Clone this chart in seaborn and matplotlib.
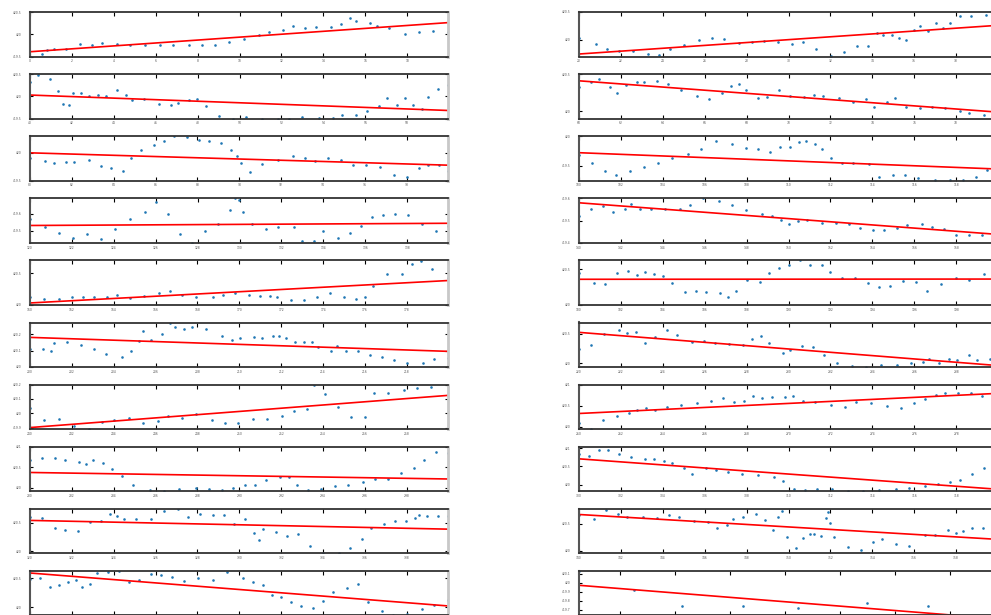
import pandas as pd
import seaborn as sns
import matplotlib.pyplot as plt
from matplotlib.ticker import MultipleLocator, FormatStrFormatter

# one window of 20 samples per panel
x0 = [0, 0.56, 0.81, 1.15, 1.71, 2.39, 2.95, 3.46, 4.14, 4.78, 5.51, 6.22, 6.84, 7.60, 8.22, 8.84, 9.48, 10.23, 10.92, 11.41, 12.06, 12.56, 13.12, 13.67, 14.37, 14.82, 15.27, 15.57, 16.21, 16.57, 17.13, 17.90, 18.58, 19.22, 19.95]
y0 = [419.50, 419.56, 419.64, 419.66, 419.67, 419.77, 419.75, 419.81, 419.77, 419.75, 419.76, 419.75, 419.75, 419.75, 419.75, 419.76, 419.82, 419.90, 419.98, 420.04, 420.10, 420.19, 420.15, 420.16, 420.16, 420.23, 420.37, 420.29, 420.25, 420.18, 420.13, 420.01, 420.05, 420.07, 420.05]

x1 = [20.0, 20.83, 21.32, 21.90, 22.58, 23.27, 23.82, 24.32, 25.02, 25.72, 26.33, 26.90, 27.63, 28.27, 28.83, 29.51, 30.15, 30.71, 31.33, 32.02, 32.65, 33.28, 33.80, 34.23, 34.53, 34.92, 35.27, 35.60, 35.97, 36.29, 36.64, 37.05, 37.35, 37.72, 38.17, 38.73, 39.41, 39.95]
y1 = [420.04, 419.92, 419.84, 419.80, 419.80, 419.74, 419.72, 419.83, 419.90, 419.99, 420.04, 420.01, 419.94, 419.96, 419.98, 419.96, 419.92, 419.96, 419.84, 419.70, 419.78, 419.88, 419.89, 420.12, 420.09, 420.08, 420.04, 420.00, 420.18, 420.24, 420.16, 420.31, 420.21, 420.31, 420.43, 420.42, 420.44, 420.46]

x2 = [40.0, 40.37, 40.94, 41.32, 41.56, 41.88, 42.06, 42.44, 42.82, 43.25, 43.63, 44.13, 44.57, 44.88, 45.43, 46.15, 46.71, 47.06, 47.59, 47.97, 48.40, 49.02, 49.69, 50.33, 51.08, 51.82, 52.36, 53.00, 53.78, 54.45, 54.90, 55.54, 56.08, 56.65, 57.04, 57.53, 57.90, 58.28, 58.73, 59.01, 59.46, 59.95]
y2 = [420.33, 420.48, 420.39, 420.11, 419.83, 419.80, 420.07, 420.08, 420.00, 420.04, 420.01, 420.15, 420.04, 419.92, 419.95, 419.83, 419.80, 419.86, 419.91, 419.95, 419.78, 419.55, 419.50, 419.54, 419.50, 419.50, 419.50, 419.53, 419.52, 419.52, 419.58, 419.58, 419.68, 419.79, 419.97, 419.80, 419.97, 419.80, 419.72, 419.98, 420.17, 420.26]

x3 = [60.0, 60.57, 60.96, 61.47, 61.82, 62.22, 62.77, 63.09, 63.70, 64.27, 64.89, 65.64, 66.22, 66.82, 67.27, 67.64, 67.97, 68.52, 68.96, 69.53, 70.07, 70.73, 71.20, 71.65, 72.40, 73.10, 73.70, 74.07, 74.72, 75.09, 75.60, 76.29, 76.86, 77.47, 78.17, 78.61, 79.32, 79.95]
y3 = [420.33, 420.39, 420.43, 420.33, 420.24, 420.35, 420.39, 420.39, 420.41, 420.36, 420.28, 420.21, 420.17, 420.25, 420.34, 420.37, 420.28, 420.18, 420.19, 420.29, 420.21, 420.19, 420.22, 420.20, 420.18, 420.13, 420.16, 420.06, 420.13, 420.18, 420.06, 420.04, 420.06, 420.04, 420.00, 419.97, 419.95, 419.93]

x4 = [80.0, 80.73, 81.16, 81.72, 82.10, 82.84, 83.38, 83.89, 84.45, 84.81, 85.31, 85.91, 86.41, 86.90, 87.51, 88.08, 88.57, 89.12, 89.61, 89.91, 90.09, 90.53, 91.09, 91.84, 92.55, 93.12, 93.61, 94.25, 94.86, 95.41, 96.04, 96.70, 97.37, 97.99, 98.60, 99.03, 99.54, 99.97]
y4 = [419.90, 419.85, 419.81, 419.83, 419.83, 419.88, 419.76, 419.73, 419.68, 419.91, 420.05, 420.15, 420.22, 420.30, 420.28, 420.24, 420.21, 420.17, 420.06, 419.95, 419.82, 419.66, 419.80, 419.88, 419.94, 419.90, 419.86, 419.90, 419.87, 419.78, 419.78, 419.74, 419.60, 419.56, 419.72, 419.78, 419.79, 419.68]

x5 = [100.0, 100.64, 101.23, 101.78, 102.42, 103.11, 103.79, 104.45, 105.18, 105.82, 106.52, 107.28, 107.97, 108.54, 109.12, 109.61, 110.07, 110.49, 110.82, 111.27, 111.59, 112.02, 112.53, 113.08, 113.86, 114.34, 115.00, 115.57, 116.19, 116.97, 117.71, 118.33, 118.95, 119.47, 119.95]
y5 = [419.68, 419.55, 419.42, 419.34, 419.42, 419.48, 419.55, 419.63, 419.70, 419.78, 419.92, 419.87, 419.80, 419.78, 419.74, 419.82, 419.82, 419.90, 419.92, 419.87, 419.78, 419.63, 419.54, 419.54, 419.53, 419.31, 419.35, 419.35, 419.30, 419.26, 419.27, 419.26, 419.31, 419.43, 419.52]

x6 = [120.0, 120.70, 121.37, 122.07, 122.71, 123.38, 124.08, 124.78, 125.47, 126.01, 126.60, 127.17, 127.73, 128.35, 128.97, 129.55, 129.78, 129.98, 130.18, 130.61, 131.24, 131.86, 132.61, 132.96, 133.55, 133.99, 134.71, 135.25, 135.82, 136.32, 136.83, 137.40, 138.02, 138.71, 139.39, 139.95]
y6 = [419.57, 419.52, 419.49, 419.46, 419.48, 419.45, 419.51, 419.57, 419.61, 419.67, 419.60, 419.48, 419.43, 419.50, 419.54, 419.62, 419.69, 419.68, 419.61, 419.54, 419.51, 419.52, 419.52, 419.44, 419.44, 419.50, 419.46, 419.49, 419.53, 419.58, 419.59, 419.60, 419.59, 419.54, 419.50, 419.53]

x7 = [140.0, 140.57, 141.13, 141.63, 142.18, 142.50, 142.93, 143.46, 144.11, 144.80, 145.31, 145.91, 146.66, 147.28, 147.97, 148.72, 149.21, 149.64, 150.02, 150.45, 150.87, 151.59, 152.27, 152.88, 153.39, 154.01, 154.55, 155.19, 155.67, 156.38, 156.86, 157.43, 157.98, 158.61, 159.22, 159.95]
y7 = [419.522, 419.552, 419.566, 419.54, 419.55, 419.576, 419.552, 419.554, 419.55, 419.554, 419.57, 419.6, 419.588, 419.572, 419.546, 419.528, 419.522, 419.502, 419.484, 419.5, 419.502, 419.49, 419.49, 419.484, 419.466, 419.458, 419.456, 419.466, 419.48, 419.486, 419.472, 419.462, 419.436, 419.436, 419.434, 419.43]

x8 = [160.0, 160.69, 161.37, 161.99, 162.53, 163.04, 163.67, 164.16, 164.78, 165.45, 166.15, 166.69, 167.27, 167.94, 168.75, 169.24, 169.80, 170.47, 170.98, 171.47, 171.78, 172.48, 173.08, 173.71, 174.31, 175.00, 175.57, 176.02, 176.38, 177.05, 177.78, 178.23, 178.68, 179.22, 179.97]
y8 = [420.12, 420.10, 420.10, 420.13, 420.13, 420.13, 420.13, 420.16, 420.11, 420.14, 420.19, 420.22, 420.16, 420.12, 420.13, 420.16, 420.18, 420.15, 420.14, 420.14, 420.12, 420.08, 420.08, 420.12, 420.18, 420.13, 420.09, 420.12, 420.29, 420.48, 420.49, 420.64, 420.69, 420.57, 420.43]

x9 = [180.0, 180.70, 181.23, 181.83, 182.33, 182.77, 183.16, 183.59, 184.03, 184.46, 185.08, 185.58, 186.07, 186.73, 187.09, 187.49, 188.03, 188.65, 189.08, 189.53, 190.02, 190.53, 191.04, 191.60, 191.97, 192.54, 193.16, 193.78, 194.34, 194.85, 195.46, 196.10, 196.61, 197.27, 197.98, 198.60, 199.31, 199.95]
y9 = [420.44, 420.30, 420.29, 420.45, 420.47, 420.41, 420.46, 420.43, 420.40, 420.31, 420.18, 420.20, 420.18, 420.16, 420.11, 420.20, 420.35, 420.32, 420.44, 420.51, 420.56, 420.62, 420.55, 420.56, 420.46, 420.37, 420.37, 420.31, 420.25, 420.27, 420.33, 420.32, 420.20, 420.29, 420.37, 420.35, 420.43, 420.40]

x10 = [200.0, 200.62, 200.99, 201.13, 201.77, 202.45, 203.08, 203.65, 204.41, 204.84, 205.23, 205.40, 205.78, 206.29, 206.68, 206.92, 207.35, 207.75, 208.41, 209.16, 209.63, 210.01, 210.69, 211.09, 211.59, 211.89, 212.21, 212.65, 213.10, 213.47, 213.78, 214.36, 214.68, 215.11, 215.67, 216.22, 216.80, 217.37, 218.01, 218.76, 219.31, 219.97]
y10 = [420.108, 420.108, 420.097, 420.146, 420.154, 420.135, 420.111, 420.078, 420.059, 420.1, 420.157, 420.221, 420.165, 420.203, 420.267, 420.243, 420.23, 420.243, 420.23, 420.189, 420.162, 420.178, 420.181, 420.173, 420.189, 420.189, 420.173, 420.149, 420.149, 420.154, 420.119, 420.1, 420.13, 420.097, 420.095, 420.073, 420.062, 420.041, 420.024, 420.027, 420.049, 420.057]

x11 = [220.0, 220.56, 221.18, 221.48, 221.91, 222.29, 222.73, 223.16, 223.65, 224.21, 224.70, 225.39, 225.98, 226.47, 227.16, 227.84, 228.27, 228.69, 229.07, 229.75, 230.07, 230.63, 231.16, 231.71, 232.32, 233.02, 233.69, 234.42, 235.16, 235.84, 236.40, 236.70, 237.20, 237.64, 238.06, 238.63, 238.98, 239.60, 239.95]
y11 = [420.24, 420.31, 420.49, 420.69, 420.57, 420.52, 420.53, 420.35, 420.44, 420.56, 420.48, 420.36, 420.38, 420.35, 420.32, 420.31, 420.42, 420.46, 420.34, 420.18, 420.22, 420.29, 420.27, 420.14, 420.00, 419.96, 419.94, 419.97, 419.98, 420.00, 420.02, 420.08, 420.00, 420.07, 420.05, 420.14, 420.05, 420.07, 420.08]

x12 = [240.0, 240.69, 241.37, 242.10, 242.84, 243.46, 244.02, 244.75, 245.39, 246.12, 246.60, 247.24, 247.92, 248.70, 249.34, 249.95, 250.63, 251.31, 252.06, 252.60, 253.23, 253.59, 254.09, 254.73, 255.33, 256.02, 256.43, 257.12, 257.86, 258.49, 259.17, 259.97]
y12 = [420.039, 419.952, 419.961, 419.915, 419.893, 419.937, 419.955, 419.964, 419.933, 419.949, 419.983, 419.964, 419.992, 419.952, 419.933, 419.933, 419.961, 419.958, 419.98, 420.014, 420.03, 420.2, 420.132, 420.045, 419.974, 419.971, 420.138, 420.141, 420.163, 420.175, 420.185, 420.129]

x13 = [260.0, 260.57, 261.13, 261.82, 262.37, 262.76, 263.19, 263.62, 264.18, 264.86, 265.61, 266.28, 266.87, 267.41, 267.86, 268.29, 268.72, 269.21, 269.85, 270.22, 270.71, 271.27, 272.02, 272.69, 273.20, 273.95, 274.70, 275.36, 275.98, 276.49, 277.02, 277.48, 278.10, 278.73, 279.24, 279.95]
y13 = [420.097, 419.95, 420.16, 420.265, 420.339, 420.412, 420.444, 420.402, 420.475, 420.528, 420.57, 420.622, 420.675, 420.59, 420.622, 420.738, 420.685, 420.717, 420.717, 420.738, 420.622, 420.58, 420.528, 420.465, 420.58, 420.559, 420.496, 420.454, 420.559, 420.654, 420.748, 420.801, 420.801, 420.79, 420.727, 420.706]

x14 = [280.0, 280.56, 281.18, 281.69, 282.36, 282.68, 283.00, 283.49, 283.92, 284.41, 284.91, 285.74, 286.41, 287.11, 287.94, 288.54, 289.16, 289.72, 290.28, 290.74, 291.28, 291.92, 292.37, 292.76, 293.27, 293.91, 294.58, 295.20, 295.92, 296.46, 297.08, 297.74, 298.33, 298.84, 299.38, 299.97]
y14 = [420.673, 420.728, 420.717, 420.684, 420.619, 420.575, 420.684, 420.597, 420.444, 420.292, 420.074, 419.943, 419.921, 419.965, 419.986, 419.954, 419.932, 419.986, 420.074, 420.052, 420.193, 420.248, 420.27, 420.052, 419.932, 419.965, 420.041, 420.074, 420.128, 420.204, 420.215, 420.368, 420.477, 420.684, 420.869, 420.837]

x15 = [300.0, 300.46, 300.96, 301.40, 301.90, 302.47, 303.16, 303.60, 304.05, 304.45, 305.00, 305.37, 306.07, 306.52, 307.09, 307.78, 308.53, 309.31, 309.74, 310.25, 310.80, 311.38, 312.08, 312.83, 313.55, 314.31, 315.11, 315.73, 316.51, 317.13, 317.69, 318.18, 318.77, 319.33, 319.95]
y15 = [420.845, 420.772, 420.942, 420.942, 420.833, 420.759, 420.711, 420.698, 420.65, 420.601, 420.467, 420.296, 420.467, 420.393, 420.357, 420.284, 420.271, 420.223, 420.088, 419.881, 419.844, 419.893, 419.881, 419.832, 419.82, 419.844, 419.881, 419.918, 419.954, 420.015, 420.064, 420.137, 420.284, 420.454, 420.625]

x16 = [320.0, 320.56, 321.18, 321.69, 322.31, 322.87, 323.38, 323.82, 324.14, 324.51, 325.08, 325.77, 326.41, 327.09, 327.54, 328.10, 328.72, 329.29, 329.74, 330.25, 330.68, 330.92, 331.11, 331.73, 332.30, 332.80, 333.37, 333.99, 334.76, 335.30, 335.87, 336.30, 336.89, 337.43, 337.96, 338.37, 338.58, 338.98, 339.51, 339.97]
y16 = [420.608, 420.584, 420.418, 420.379, 420.363, 420.513, 420.537, 420.663, 420.624, 420.576, 420.568, 420.568, 420.703, 420.742, 420.608, 420.663, 420.632, 420.639, 420.489, 420.568, 420.316, 420.189, 420.387, 420.347, 420.26, 420.308, 420.094, 419.96, 419.96, 420.047, 420.221, 420.41, 420.481, 420.529, 420.537, 420.592, 420.647, 420.616, 420.616, 420.616]

x17 = [340.0, 340.70, 341.31, 341.88, 342.31, 343.04, 343.73, 344.29, 344.78, 345.47, 346.15, 346.58, 347.07, 347.33, 347.82, 348.44, 348.88, 349.24, 349.50, 349.67, 349.93, 350.34, 350.68, 351.04, 351.22, 351.56, 351.79, 351.90, 351.98, 352.18, 352.83, 353.45, 354.02, 354.47, 355.12, 355.75, 356.51, 356.99, 357.59, 357.99, 358.31, 358.77, 359.30, 359.95]
y17 = [420.656, 420.597, 420.763, 420.689, 420.622, 420.622, 420.614, 420.656, 420.631, 420.548, 420.531, 420.415, 420.481, 420.589, 420.622, 420.689, 420.573, 420.382, 420.622, 420.73, 420.257, 420.05, 420.241, 420.315, 420.307, 420.274, 420.614, 420.714, 420.523, 420.249, 420.066, 420.008, 420.166, 420.216, 420.116, 420.091, 420.29, 420.299, 420.39, 420.332, 420.357, 420.415, 420.415, 420.42]

x18 = [360.0, 360.49, 360.94, 361.39, 361.82, 362.20, 362.50, 362.88, 363.19, 363.71, 364.26, 364.72, 365.21, 365.77, 366.28, 366.79, 367.35, 368.03, 368.72, 369.42, 370.17, 370.66, 371.12, 371.55, 372.00, 372.48, 372.94, 373.50, 373.99, 374.49, 375.14, 375.68, 376.14, 376.81, 377.32, 378.01, 378.71, 379.28, 379.97]
y18 = [420.491, 420.507, 420.345, 420.384, 420.438, 420.468, 420.353, 420.407, 420.592, 420.615, 420.63, 420.445, 420.476, 420.584, 420.553, 420.522, 420.453, 420.499, 420.476, 420.615, 420.515, 420.445, 420.384, 420.207, 420.183, 420.091, 420.022, 419.991, 420.106, 420.26, 420.337, 420.399, 420.091, 419.929, 419.875, 419.883, 419.968, 420.045, 420.13]

x19 = [380.5, 382.5, 384.25, 386.48, 388.48, 390.96, 393.2, 395.7]
y19 = [420.13, 419.926, 419.74, 419.74, 419.72, 419.78, 419.74, 419.6]

# panel order runs left-right, top-bottom
xs_all = [x0, x1, x2, x3, x4, x5, x6, x7, x8, x9, x10, x11, x12, x13, x14, x15, x16, x17, x18, x19]
ys_all = [y0, y1, y2, y3, y4, y5, y6, y7, y8, y9, y10, y11, y12, y13, y14, y15, y16, y17, y18, y19]

y_lo = [419.5, 419.7, 419.5, 419.9, 419.5, 419.25, 419.43, 419.4, 420.0, 420.0,
        420.0, 419.94, 419.89, 419.95, 419.91, 419.82, 419.96, 419.95, 419.86, 419.64]
y_hi = [420.5, 420.5, 420.5, 420.5, 420.3, 420.0, 419.69, 419.6, 420.7, 420.62,
        420.27, 420.69, 420.2, 421.0, 421.0, 421.04, 420.75, 420.78, 420.63, 420.133]
y_step = [0.5, 0.5, 0.5, 0.5, 0.5, 0.5, 0.1, 0.1, 0.5, 0.5,
          0.1, 0.5, 0.1, 0.5, 0.5, 0.5, 0.5, 0.5, 0.5, 0.1]

sns.set_style('white')
plt.rcParams['font.family'] = ['DejaVu Sans']

W, H = 991, 615
fig = plt.figure(figsize=(W / 100, H / 100), dpi=100)

for k, (xs, ys) in enumerate(zip(xs_all, ys_all)):
    row, col = divmod(k, 2)
    left = 30 if col == 0 else 579
    top = 12 + 62.1 * row
    ax = fig.add_axes([left / W, 1 - (top + 44.5) / H, 418 / W, 44.5 / H])

    df = pd.DataFrame({'t': xs, 'v': ys})
    sns.regplot(data=df, x='t', y='v', ax=ax, ci=None,
                scatter_kws=dict(s=3.5, color='#1f77b4', alpha=1, linewidths=0),
                line_kws=dict(color='red', lw=1.2))

    ax.set_xlim(min(xs), max(xs))
    ax.set_ylim(y_lo[k], y_hi[k])
    ax.xaxis.set_major_locator(MultipleLocator(2))
    ax.yaxis.set_major_locator(MultipleLocator(y_step[k]))
    ax.xaxis.set_major_formatter(FormatStrFormatter('%g'))
    ax.yaxis.set_major_formatter(FormatStrFormatter('%g'))
    ax.set_xlabel('')
    ax.set_ylabel('')

    ax.tick_params(direction='in', top=True, right=True, bottom=True, left=True,
                   labelsize=2.2, labelcolor='#555555', color='black', width=0.8)
    ax.tick_params(axis='x', length=3, pad=2)
    ax.tick_params(axis='y', length=2.5, pad=6)
    # the last row runs off the bottom of the canvas, its x labels fall outside
    if row == 9:
        ax.tick_params(axis='x', labelbottom=False)
    for side in ['top', 'bottom']:
        ax.spines[side].set(color='#333333', linewidth=1.3)
    ax.spines['left'].set(color='#555555', linewidth=1.5)
    ax.spines['right'].set(color='#c8c8c8', linewidth=2)

fig.savefig('out.png', dpi=100)
